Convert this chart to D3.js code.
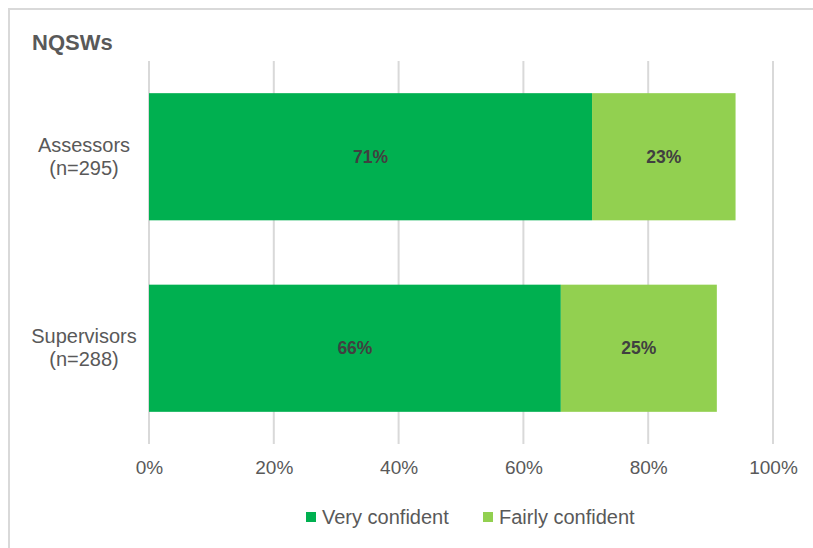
<!DOCTYPE html>
<html>
<head>
<meta charset="utf-8">
<script src="https://cdn.jsdelivr.net/npm/d3@7/dist/d3.min.js"></script>
<style>
  html, body { margin: 0; padding: 0; background: #fff; }
  svg { display: block; font-family: Arial, "Liberation Sans", sans-serif; }
</style>
</head>
<body>
<script>
// Chart data
const title = "NQSWs";
const categories = [["Assessors", "(n=295)"], ["Supervisors", "(n=288)"]];
const seriesNames = ["Very confident", "Fairly confident"];
// Values per category (percent)
const veryValues = [71, 66];
const fairlyValues = [23, 25];
const tickValues = [0, 20, 40, 60, 80, 100];
const seriesColors = ["#00B050", "#92D050"];

const W = 813, H = 548;
const svg = d3.select("body").append("svg").attr("width", W).attr("height", H);

// Frame (top and left edges are visible)
svg.append("rect")
  .attr("x", 9).attr("y", 9).attr("width", W).attr("height", H)
  .attr("fill", "#fff").attr("stroke", "#d9d9d9").attr("stroke-width", 2);

svg.append("text")
  .attr("x", 32).attr("y", 50)
  .attr("font-size", 22).attr("font-weight", "bold").attr("fill", "#595959")
  .text(title);

const x = d3.scaleLinear().domain([0, 100]).range([149, 773]);
const y = d3.scaleBand()
  .domain(categories.map(c => c[0]))
  .range([61, 444])
  .paddingInner(0.336).paddingOuter(0.168);

// Gridlines
svg.append("g").selectAll("line").data(tickValues).join("line")
  .attr("x1", d => x(d)).attr("x2", d => x(d))
  .attr("y1", 61).attr("y2", 444)
  .attr("stroke", "#d9d9d9").attr("stroke-width", 2);

// X axis tick labels
const xAxis = d3.axisBottom(x).tickValues(tickValues).tickFormat(d => d + "%").tickSize(0).tickPadding(0);
const gx = svg.append("g").attr("transform", "translate(0,460)").call(xAxis);
gx.select(".domain").remove();
gx.selectAll("text").attr("font-size", 19).attr("fill", "#595959")
  .attr("font-family", "Arial, 'Liberation Sans', sans-serif");

// Stacked bars
const rows = categories.map((c, i) => ({ key: c[0], label: c, values: [veryValues[i], fairlyValues[i]] }));
rows.forEach(r => {
  let start = 0;
  r.values.forEach((v, j) => {
    svg.append("rect")
      .attr("x", x(start)).attr("y", y(r.key))
      .attr("width", x(start + v) - x(start)).attr("height", y.bandwidth())
      .attr("fill", seriesColors[j]);
    svg.append("text")
      .attr("x", (x(start) + x(start + v)) / 2)
      .attr("y", y(r.key) + y.bandwidth() / 2)
      .attr("dy", "0.35em")
      .attr("text-anchor", "middle")
      .attr("font-size", 17.5).attr("font-weight", "bold").attr("fill", "#404040")
      .text(v + "%");
    start += v;
  });
  // Category label (two lines)
  const cy = y(r.key) + y.bandwidth() / 2;
  const t = svg.append("text").attr("text-anchor", "middle")
    .attr("font-size", 20).attr("fill", "#595959");
  t.append("tspan").attr("x", 84).attr("y", cy - 5).text(r.label[0]);
  t.append("tspan").attr("x", 84).attr("y", cy + 18).text(r.label[1]);
});

// Legend
const legendItems = [{ x: 306, name: seriesNames[0], c: seriesColors[0] },
                     { x: 483, name: seriesNames[1], c: seriesColors[1] }];
const lg = svg.append("g");
legendItems.forEach(it => {
  lg.append("rect").attr("x", it.x).attr("y", 512).attr("width", 10).attr("height", 10).attr("fill", it.c);
  lg.append("text").attr("x", it.x + 16).attr("y", 524)
    .attr("font-size", 20).attr("fill", "#595959").text(it.name);
});
</script>
</body>
</html>
